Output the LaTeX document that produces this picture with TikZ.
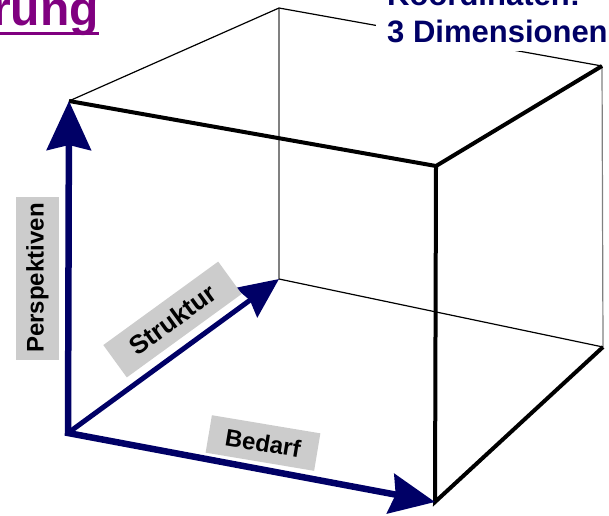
\documentclass[tikz,border=0pt]{standalone}
\usepackage{fontspec}
\setmainfont{Liberation Sans}
\usetikzlibrary{arrows.meta}
\definecolor{mynavy}{RGB}{0,0,102}
\definecolor{mypurple}{RGB}{128,0,128}
\definecolor{mygrey}{RGB}{204,204,204}

\begin{document}
\begin{tikzpicture}[x=1pt,y=-1pt,
  edge/.style={line width=4},
  back/.style={line width=1.2},
  hidden/.style={line width=1.2, color=gray},
  axis/.style={line width=6.5, color=mynavy, line join=miter},
  tag/.style={fill=mygrey, font=\fontsize{24}{28}\selectfont\bfseries, inner sep=0pt}]
\useasboundingbox (0,0) rectangle (609,515);

% cube corners
\coordinate (A) at (68,433);
\coordinate (B) at (69,101);
\coordinate (C) at (435,502);
\coordinate (D) at (436,166);
\coordinate (E) at (279,279);
\coordinate (F) at (279,8);
\coordinate (G) at (603,347);
\coordinate (H) at (602,66);

\draw[hidden] (F) -- (E);
\draw[hidden] (H) -- (G);
\draw[back] (B) -- (F) -- (H);
\draw[back] (E) -- (G);

\draw[edge] (B) -- (D) -- (H);
\draw[edge] (D) -- (C) -- (G);

\draw[axis, {Stealth[length=49pt,width=44pt,inset=5pt]}-{Stealth[length=45pt,width=40pt,inset=5pt]}] (B) -- (A) -- (C);
\draw[axis, line width=5, -{Stealth[length=40pt,width=36pt,inset=4pt]}] (A) -- (E);

\node[tag, rotate=90, minimum width=163, minimum height=43] (persp) at (37.5,278) {Perspektiven};
\node[tag, rotate=36, minimum width=142, minimum height=40, font=\fontsize{26}{30}\selectfont\bfseries] (strukt) at (172.5,319.5) {Struktur};
\node[tag, rotate=-9.5, minimum width=110, minimum height=38] (bedarf) at (263,443) {Bedarf};

\node[anchor=base east, inner sep=0pt, text=mypurple, font=\fontsize{48}{52}\selectfont\bfseries] (title) at (99,25) {rung};
\draw[mypurple, line width=3] (0,33) -- (title.base east |- 0,33);

\node[anchor=south west, align=left, fill=white, text=mynavy, inner xsep=11, inner ysep=8,
  font=\fontsize{31}{37}\selectfont\bfseries] (coords) at (376,51) {Koordinaten:\\3 Dimensionen};
\end{tikzpicture}
\end{document}
